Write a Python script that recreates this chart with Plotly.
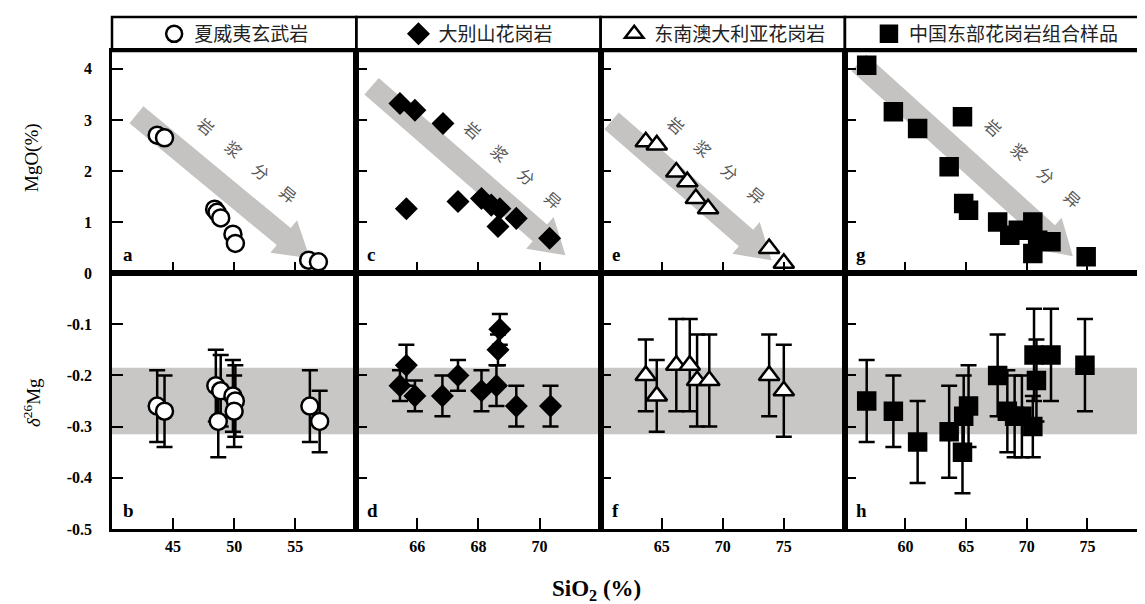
import math
import plotly.graph_objects as go

# ---------------- data ----------------
# Panel a / b : Hawaiian basalts
sio2_a = [43.7, 44.3, 48.4, 48.6, 48.9, 49.9, 50.1, 56.1, 56.9]
mgo_a = [2.70, 2.65, 1.25, 1.19, 1.08, 0.76, 0.58, 0.25, 0.22]
sio2_b = [43.7, 44.3, 48.5, 48.9, 48.7, 49.9, 50.1, 50.0, 56.2, 57.0]
d26_b = [-0.26, -0.27, -0.22, -0.23, -0.29, -0.24, -0.25, -0.27, -0.26, -0.29]
err_b = [0.07, 0.07, 0.07, 0.07, 0.07, 0.07, 0.07, 0.07, 0.07, 0.06]

# Panel c / d : Dabie granites
sio2_c = [65.43, 65.92, 66.84, 65.64, 67.33, 68.10, 68.42, 68.70, 68.64, 69.24, 70.33]
mgo_c = [3.32, 3.19, 2.93, 1.26, 1.40, 1.46, 1.33, 1.26, 0.91, 1.07, 0.68]
sio2_d = [65.43, 65.64, 65.92, 66.82, 67.33, 68.10, 68.59, 68.64, 68.70, 69.24, 70.36]
d26_d = [-0.22, -0.18, -0.24, -0.24, -0.20, -0.23, -0.22, -0.15, -0.11, -0.26, -0.26]
err_d = [0.03, 0.04, 0.03, 0.04, 0.03, 0.04, 0.04, 0.03, 0.03, 0.04, 0.04]

# Panel e / f : SE Australian granites
sio2_e = [63.7, 64.6, 66.2, 67.1, 67.8, 68.8, 73.8, 75.0]
mgo_e = [2.57, 2.51, 1.98, 1.79, 1.46, 1.26, 0.48, 0.19]
sio2_f = [63.7, 64.6, 66.2, 67.3, 67.9, 68.9, 73.8, 75.0]
d26_f = [-0.20, -0.24, -0.18, -0.18, -0.21, -0.21, -0.20, -0.23]
err_f = [0.07, 0.07, 0.09, 0.09, 0.09, 0.09, 0.08, 0.09]

# Panel g / h : eastern China granite suite
sio2_g = [56.8, 59.0, 61.0, 64.7, 63.6, 64.8, 65.2, 67.6, 68.6, 69.3, 70.5, 70.5, 70.9, 72.0, 74.9]
mgo_g = [4.07, 3.16, 2.83, 3.06, 2.08, 1.36, 1.23, 1.00, 0.74, 0.84, 1.00, 0.38, 0.64, 0.61, 0.32]
sio2_h = [56.8, 59.0, 61.0, 63.6, 64.7, 64.8, 65.2, 67.6, 68.4, 69.0, 69.6, 70.5, 70.6, 70.8, 72.0, 74.8]
d26_h = [-0.25, -0.27, -0.33, -0.31, -0.35, -0.28, -0.26, -0.20, -0.27, -0.28, -0.28, -0.30, -0.16, -0.21, -0.16, -0.18]
err_h = [0.08, 0.07, 0.08, 0.09, 0.08, 0.08, 0.08, 0.08, 0.08, 0.08, 0.08, 0.06, 0.09, 0.08, 0.09, 0.09]

group_names = ["夏威夷玄武岩", "大别山花岗岩", "东南澳大利亚花岗岩", "中国东部花岗岩组合样品"]
top_letters = ["a", "c", "e", "g"]
bottom_letters = ["b", "d", "f", "h"]

x_ranges = [[40, 60], [64, 72], [60, 80], [55, 80]]
x_ticks = [[45, 50, 55], [66, 68, 70], [65, 70, 75], [60, 65, 70, 75]]
mgo_ticks = [0, 1, 2, 3, 4]
d26_ticks = [-0.5, -0.4, -0.3, -0.2, -0.1]
mgo_range = [0, 4.35]
d26_range = [-0.5, 0.0]
band = [-0.315, -0.185]  # mantle delta26Mg range

# fractional-crystallisation arrows (tail -> tip, data units)
arrow_x0 = [42.0, 64.5, 60.9, 56.15]
arrow_y0 = [3.10, 3.66, 2.98, 4.12]
arrow_x1 = [56.2, 70.85, 74.0, 73.8]
arrow_y1 = [0.29, 0.35, 0.25, 0.33]
arrow_label = "岩\u3000 浆\u3000 分\u3000 异"
label_x = [51.1, 69.16, 69.5, 70.54]
label_y = [2.21, 2.12, 2.21, 2.16]

# ---------------- layout geometry ----------------
W, H = 1145, 604
ML, MR, MT, MB = 104, 2, 9, 83
plot_w = W - ML - MR
plot_h = H - MT - MB
col_px = [0, 245, 490, 735, plot_w]
x_domains = [[col_px[i] / plot_w, col_px[i + 1] / plot_w] for i in range(4)]
y_bottom = [0, 256 / plot_h]
y_top = [256 / plot_h, 478 / plot_h]
y_head = [478 / plot_h, 1.0]


def xr(n):
    return "x" if n == 1 else f"x{n}"


def yr(n):
    return "y" if n == 1 else f"y{n}"


symbols = ["circle", "diamond", "triangle-up", "square"]
fills = ["white", "black", "white", "black"]
sizes = [17, 15, 18, 17]

top_data = [(sio2_a, mgo_a), (sio2_c, mgo_c), (sio2_e, mgo_e), (sio2_g, mgo_g)]
bot_data = [(sio2_b, d26_b, err_b), (sio2_d, d26_d, err_d),
            (sio2_f, d26_f, err_f), (sio2_h, d26_h, err_h)]

fig = go.Figure()
serif = "Liberation Serif"
cjk = "Noto Sans CJK SC"
LW = 2.5

legend_names = ["legend", "legend2", "legend3", "legend4"]
for i in range(4):
    xs, ys = top_data[i]
    fig.add_trace(go.Scatter(
        x=xs, y=ys, mode="markers", name=group_names[i],
        xaxis=xr(i + 1), yaxis=yr(i + 1), legend=legend_names[i], showlegend=True,
        marker=dict(symbol=symbols[i], size=sizes[i], color=fills[i],
                    line=dict(color="black", width=LW)),
    ))
    xb, yb, eb = bot_data[i]
    fig.add_trace(go.Scatter(
        x=xb, y=yb, mode="markers", name=group_names[i], showlegend=False,
        xaxis=xr(i + 5), yaxis=yr(i + 5),
        error_y=dict(type="data", array=eb, visible=True, color="black",
                     thickness=2.5, width=8),
        marker=dict(symbol=symbols[i], size=sizes[i], color=fills[i],
                    line=dict(color="black", width=LW)),
    ))

layout = dict(
    width=W, height=H,
    margin=dict(l=ML, r=MR, t=MT, b=MB),
    paper_bgcolor="white", plot_bgcolor="white",
    showlegend=True,
)

axis_common = dict(showgrid=False, zeroline=False, showline=True, mirror=True,
                   linecolor="black", linewidth=LW, ticks="inside", ticklen=11,
                   tickwidth=2.2, tickcolor="black",
                   tickfont=dict(family=serif, size=16, color="black", weight="bold"))

for i in range(4):
    # top row
    layout[f"xaxis{i+1}"] = dict(axis_common, domain=x_domains[i], range=x_ranges[i],
                                 anchor=yr(i + 1), tickvals=x_ticks[i], showticklabels=False)
    layout[f"yaxis{i+1}"] = dict(axis_common, domain=y_top, range=mgo_range,
                                 anchor=xr(i + 1), tickvals=mgo_ticks,
                                 showticklabels=(i == 0), ticklabelstandoff=14)
    # bottom row
    layout[f"xaxis{i+5}"] = dict(axis_common, domain=x_domains[i], range=x_ranges[i],
                                 anchor=yr(i + 5), tickvals=x_ticks[i], showticklabels=True,
                                 ticklabelstandoff=1)
    layout[f"yaxis{i+5}"] = dict(axis_common, domain=y_bottom, range=d26_range,
                                 anchor=xr(i + 5), tickvals=d26_ticks,
                                 ticktext=[f"{v:.1f}" for v in d26_ticks],
                                 showticklabels=(i == 0), ticklabelstandoff=14)
    # header legends
    key = legend_names[i]
    layout[key] = dict(x=sum(x_domains[i]) / 2, y=sum(y_head) / 2,
                       xanchor="center", yanchor="middle", xref="paper", yref="paper",
                       bgcolor="rgba(0,0,0,0)", borderwidth=0, itemwidth=30,
                       font=dict(family=cjk, size=19, color="#222"))

fig.update_layout(**layout)

shapes = []
annotations = []
arrow_color = "#c5c3c1"
for i in range(4):
    # header boxes
    shapes.append(dict(type="rect", xref="paper", yref="paper",
                       x0=x_domains[i][0], x1=x_domains[i][1], y0=y_head[0], y1=y_head[1],
                       line=dict(color="black", width=LW), fillcolor="rgba(0,0,0,0)"))
    # grey mantle band
    shapes.append(dict(type="rect", xref=f"{xr(i + 5)} domain", yref=yr(i + 5),
                       x0=0, x1=1, y0=band[0], y1=band[1], layer="below",
                       line=dict(width=0), fillcolor="#c9c7c5"))
    # arrow polygon (computed in pixel space then mapped back to data)
    sx = (col_px[i + 1] - col_px[i]) / (x_ranges[i][1] - x_ranges[i][0])
    sy = (y_top[1] - y_top[0]) * plot_h / (mgo_range[1] - mgo_range[0])
    X0, Y0 = arrow_x0[i] * sx, arrow_y0[i] * sy
    X1, Y1 = arrow_x1[i] * sx, arrow_y1[i] * sy
    dx, dy = X1 - X0, Y1 - Y0
    L = math.hypot(dx, dy)
    ux, uy = dx / L, dy / L
    nx, ny = -uy, ux
    shaft, headw, headl = 22, 42, 34
    bx, by = X1 - ux * headl, Y1 - uy * headl
    pts = [(X0 + nx * shaft / 2, Y0 + ny * shaft / 2),
           (bx + nx * shaft / 2, by + ny * shaft / 2),
           (bx + nx * headw / 2, by + ny * headw / 2),
           (X1, Y1),
           (bx - nx * headw / 2, by - ny * headw / 2),
           (bx - nx * shaft / 2, by - ny * shaft / 2),
           (X0 - nx * shaft / 2, Y0 - ny * shaft / 2)]
    path = "M " + " L ".join(f"{px / sx:.4f},{py / sy:.4f}" for px, py in pts) + " Z"
    shapes.append(dict(type="path", xref=xr(i + 1), yref=yr(i + 1), path=path,
                       layer="below", line=dict(width=0), fillcolor=arrow_color))
    angle = math.degrees(math.atan2(-dy, dx))
    annotations.append(dict(x=label_x[i], y=label_y[i], xref=xr(i + 1), yref=yr(i + 1),
                            xanchor="center", yanchor="middle",
                            text=arrow_label, showarrow=False, textangle=angle,
                            font=dict(family=cjk, size=16, color="#555")))
    # panel letters
    for letter, ax in ((top_letters[i], i + 1), (bottom_letters[i], i + 5)):
        annotations.append(dict(x=0, y=0, xref=f"{xr(ax)} domain", yref=f"{yr(ax)} domain",
                                xanchor="left", yanchor="bottom", xshift=9, yshift=6,
                                text=f"<b>{letter}</b>", showarrow=False,
                                font=dict(family=serif, size=19, color="black")))

# axis titles
annotations.append(dict(x=0, y=(521 - 150) / plot_h, xref="paper", yref="paper",
                        xanchor="center", yanchor="middle",
                        xshift=-80, text="MgO(%)", textangle=-90, showarrow=False,
                        font=dict(family=serif, size=19, color="black")))
annotations.append(dict(x=0, y=(521 - 395) / plot_h, xref="paper", yref="paper",
                        xanchor="center", yanchor="middle",
                        xshift=-80, text="<i>δ</i><sup>26</sup>Mg", textangle=-90,
                        showarrow=False, font=dict(family=serif, size=19, color="black")))
annotations.append(dict(x=(590 - ML) / plot_w, y=0, xref="paper", yref="paper",
                        xanchor="center", yanchor="middle",
                        yshift=-61, text="<b>SiO<sub>2</sub> (%)</b>", showarrow=False,
                        font=dict(family=serif, size=23, color="black")))

fig.update_layout(shapes=shapes, annotations=annotations)
fig.write_html("out.html")
